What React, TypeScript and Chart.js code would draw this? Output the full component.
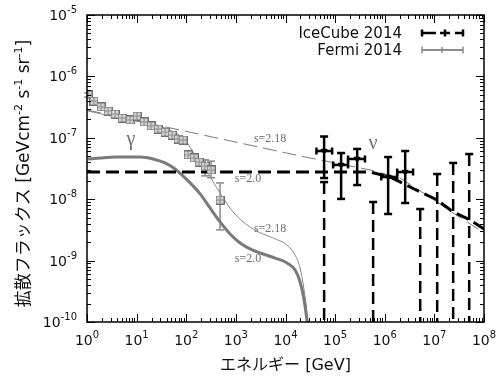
import React, { useEffect, useRef } from "react";
import { Chart, registerables } from "chart.js";

Chart.register(...registerables);

// ---------- data ----------
// Fermi 2014 (gamma-ray background), energy [GeV], E^2 flux
const fermiE = [1.05, 1.38, 1.92, 2.65, 3.67, 5.08, 7.36, 10.2, 14.1, 19.5, 27.0, 37.4, 51.8, 68.4, 86.1, 109, 144, 181, 239, 316, 480];
const fermiF = [4.98e-7, 3.97e-7, 3.18e-7, 2.73e-7, 2.44e-7, 2.1e-7, 1.95e-7, 2.26e-7, 1.81e-7, 1.56e-7, 1.39e-7, 1.24e-7, 1.11e-7, 9.55e-8, 9.2e-8, 5.25e-8, 4.69e-8, 4.03e-8, 3.47e-8, 2.99e-8, 9.7e-9];
const fermiLo = [4.6e-7, 3.7e-7, 2.95e-7, 2.55e-7, 2.28e-7, 1.96e-7, 1.82e-7, 2.1e-7, 1.68e-7, 1.45e-7, 1.29e-7, 1.15e-7, 1.03e-7, 8.8e-8, 8.4e-8, 4.8e-8, 4.25e-8, 3.6e-8, 2.4e-8, 2.24e-8, 3.16e-9];
const fermiHi = [5.4e-7, 4.3e-7, 3.45e-7, 2.95e-7, 2.64e-7, 2.27e-7, 2.1e-7, 2.44e-7, 1.96e-7, 1.69e-7, 1.5e-7, 1.34e-7, 1.2e-7, 1.04e-7, 1.0e-7, 5.8e-8, 5.2e-8, 4.5e-8, 4.37e-8, 4.17e-8, 1.84e-8];

// IceCube 2014 neutrino points
const icE = [6.0e4, 1.32e5, 2.78e5, 1.17e6, 2.58e6];
const icF = [6.09e-8, 3.61e-8, 4.52e-8, 2.3e-8, 2.77e-8];
const icHi = [1.05e-7, 5.65e-8, 6.58e-8, 4.86e-8, 6.09e-8];
const icLo = [2.21e-8, 1.01e-8, 1.7e-8, 5.74e-9, 8.67e-9];
const icEmin = [4.2e4, 9.1e4, 1.82e5, 8.5e5, 1.78e6];
const icEmax = [8.7e4, 1.82e5, 4.0e5, 1.78e6, 3.72e6];

// IceCube 2014 upper limits
const ulE = [6.0e4, 5.83e5, 5.18e6, 1.14e7, 2.39e7, 5.03e7];
const ulF = [1.9e-8, 9.0e-9, 6.92e-9, 2.57e-8, 3.89e-8, 5.44e-8];

// neutrino model lines
const nu20E = [1, 5.08e5, 1.29e6, 3.25e6, 1.14e7, 2.39e7, 5.27e7, 1.0e8];
const nu20F = [2.77e-8, 2.77e-8, 2.3e-8, 1.58e-8, 9.7e-9, 6.19e-9, 4.58e-9, 3.27e-9];
const nu218E = [1, 1.97e4, 5.08e5, 2.04e6, 1.14e7, 2.39e7, 1.0e8];
const nu218F = [2.84e-7, 5.06e-8, 2.99e-8, 2.21e-8, 9.0e-9, 5.96e-9, 2.82e-9];

// gamma-ray model curves
const g20E = [1.05, 1.83, 3.67, 6.4, 11.7, 21.4, 37.4, 59.4, 104, 190, 302, 480, 764, 1216, 2123, 3532, 6166, 10770, 15630, 19690, 23710, 27230, 29000];
const g20F = [4.52e-8, 4.69e-8, 4.86e-8, 4.86e-8, 4.86e-8, 4.52e-8, 3.89e-8, 3.1e-8, 2.06e-8, 1.22e-8, 7.2e-9, 4.26e-9, 2.71e-9, 1.94e-9, 1.49e-9, 1.28e-9, 1.1e-9, 9.14e-10, 7.03e-10, 4.48e-10, 2.28e-10, 1.0e-10, 6e-11];
const g218E = [1.05, 4.62, 18.6, 47.1, 94.6, 150, 239, 331, 480, 879, 2223, 5623, 10770, 15630, 19690, 23710, 28560, 30500];
const g218F = [2.73e-7, 2.1e-7, 1.68e-7, 1.34e-7, 9.2e-8, 5.25e-8, 3.22e-8, 2.06e-8, 1.26e-8, 6.19e-9, 3.27e-9, 2.33e-9, 1.79e-9, 1.23e-9, 7.57e-10, 3.32e-10, 1.0e-10, 6e-11];

// axis ticks
const xTickExps = [0, 1, 2, 3, 4, 5, 6, 7, 8];
const yTickExps = [-10, -9, -8, -7, -6, -5];

// annotations
const annText = ["γ", "ν", "s=2.18", "s=2.0", "s=2.18", "s=2.0"];
const annE = [7.7, 5.83e5, 4.9e3, 1.76e3, 4.9e3, 1.76e3];
const annF = [9.2e-8, 7.9e-8, 9.5e-8, 2.13e-8, 3.27e-9, 1.06e-9];
const annSize = [20, 20, 12, 12, 12, 12];

const SANS = "'DejaVu Sans', 'Noto Sans CJK JP', sans-serif";
const SERIF = "'Liberation Serif', 'DejaVu Serif', serif";

function pts(xs: number[], ys: number[]) {
  return xs.map((x, i) => ({ x, y: ys[i] }));
}

function makeSquare(): HTMLCanvasElement {
  const c = document.createElement("canvas");
  c.width = 9;
  c.height = 9;
  const g = c.getContext("2d")!;
  g.fillStyle = "#cfcfcf";
  g.fillRect(0, 0, 9, 9);
  g.strokeStyle = "#707070";
  g.lineWidth = 1;
  g.strokeRect(0.5, 0.5, 8, 8);
  g.beginPath();
  g.moveTo(4.5, 1);
  g.lineTo(4.5, 8);
  g.moveTo(1, 4.5);
  g.lineTo(8, 4.5);
  g.strokeStyle = "#909090";
  g.stroke();
  return c;
}

function drawSup(
  ctx: CanvasRenderingContext2D,
  parts: [string, boolean][],
  x: number,
  y: number,
  align: "left" | "center" | "right",
  baseFont: string,
  supFont: string,
  rise: number
) {
  let w = 0;
  for (const [t, s] of parts) {
    ctx.font = s ? supFont : baseFont;
    w += ctx.measureText(t).width;
  }
  let cx = align === "left" ? x : align === "center" ? x - w / 2 : x - w;
  ctx.textAlign = "left";
  ctx.textBaseline = "alphabetic";
  for (const [t, s] of parts) {
    ctx.font = s ? supFont : baseFont;
    ctx.fillText(t, cx, s ? y - rise : y);
    cx += ctx.measureText(t).width;
  }
}

function line(ctx: CanvasRenderingContext2D, x1: number, y1: number, x2: number, y2: number) {
  ctx.beginPath();
  ctx.moveTo(x1, y1);
  ctx.lineTo(x2, y2);
  ctx.stroke();
}

const decorPlugin = {
  id: "decor",
  beforeDatasetsDraw(chart: any) {
    const { ctx, scales } = chart;
    const xs = scales.x;
    const ys = scales.y;
    ctx.save();
    ctx.strokeStyle = "#8a8a8a";
    ctx.lineWidth = 1.5;
    fermiE.forEach((e, i) => {
      const px = xs.getPixelForValue(e);
      const pl = ys.getPixelForValue(fermiLo[i]);
      const ph = ys.getPixelForValue(fermiHi[i]);
      line(ctx, px, pl, px, ph);
      line(ctx, px - 4, pl, px + 4, pl);
      line(ctx, px - 4, ph, px + 4, ph);
    });
    ctx.restore();
  },
  afterDatasetsDraw(chart: any) {
    const { ctx, scales, chartArea: a } = chart;
    const xs = scales.x;
    const ys = scales.y;
    ctx.save();
    ctx.beginPath();
    ctx.rect(a.left, a.top, a.right - a.left, a.bottom - a.top);
    ctx.clip();
    ctx.strokeStyle = "#000";
    ctx.lineWidth = 2.5;
    ulE.forEach((e, i) => {
      const px = xs.getPixelForValue(e);
      const pt = ys.getPixelForValue(ulF[i]);
      ctx.setLineDash([]);
      line(ctx, px - 4, pt, px + 4, pt);
      ctx.setLineDash([12, 6]);
      line(ctx, px, pt, px, a.bottom);
    });
    ctx.setLineDash([]);
    icE.forEach((e, i) => {
      const px = xs.getPixelForValue(e);
      const py = ys.getPixelForValue(icF[i]);
      const pl = ys.getPixelForValue(icLo[i]);
      const ph = ys.getPixelForValue(icHi[i]);
      const x1 = xs.getPixelForValue(icEmin[i]);
      const x2 = xs.getPixelForValue(icEmax[i]);
      line(ctx, px, pl, px, ph);
      line(ctx, px - 4, pl, px + 4, pl);
      line(ctx, px - 4, ph, px + 4, ph);
      line(ctx, x1, py, x2, py);
      line(ctx, x1, py - 3.5, x1, py + 3.5);
      line(ctx, x2, py - 3.5, x2, py + 3.5);
    });
    ctx.restore();

    ctx.save();
    ctx.fillStyle = "#6e6e6e";
    ctx.textAlign = "center";
    ctx.textBaseline = "middle";
    annText.forEach((t, i) => {
      ctx.font = `${annSize[i]}px ${SERIF}`;
      ctx.fillText(t, xs.getPixelForValue(annE[i]), ys.getPixelForValue(annF[i]));
    });
    ctx.restore();
  },
  afterDraw(chart: any) {
    const { ctx, scales, chartArea: a } = chart;
    const xs = scales.x;
    const ys = scales.y;
    ctx.save();
    ctx.strokeStyle = "#000";
    ctx.lineWidth = 1;
    xTickExps.forEach((d) => {
      for (let m = 1; m <= 9; m++) {
        if (d === 8 && m > 1) break;
        const px = Math.round(xs.getPixelForValue(m * Math.pow(10, d))) + 0.5;
        const len = m === 1 ? 8 : 4;
        line(ctx, px, a.bottom, px, a.bottom - len);
        line(ctx, px, a.top, px, a.top + len);
      }
    });
    yTickExps.forEach((d) => {
      for (let m = 1; m <= 9; m++) {
        if (d === -5 && m > 1) break;
        const py = Math.round(ys.getPixelForValue(m * Math.pow(10, d))) + 0.5;
        const len = m === 1 ? 8 : 4;
        line(ctx, a.left, py, a.left + len, py);
        line(ctx, a.right, py, a.right - len, py);
      }
    });
    ctx.lineWidth = 1.5;
    ctx.strokeRect(a.left, a.top, a.right - a.left, a.bottom - a.top);

    ctx.fillStyle = "#111";
    const bf = `14px ${SANS}`;
    const sf = `10px ${SANS}`;
    xTickExps.forEach((d) => {
      const px = xs.getPixelForValue(Math.pow(10, d));
      drawSup(ctx, [["10", false], [String(d), true]], px, a.bottom + 23, "center", bf, sf, 7);
    });
    yTickExps.forEach((d) => {
      const py = ys.getPixelForValue(Math.pow(10, d));
      drawSup(ctx, [["10", false], [String(d), true]], a.left - 10, py + 5, "right", bf, sf, 7);
    });

    ctx.font = `16px ${SANS}`;
    ctx.textAlign = "center";
    ctx.textBaseline = "alphabetic";
    ctx.fillText("エネルギー [GeV]", (a.left + a.right) / 2, 370);

    ctx.save();
    ctx.translate(23, (a.top + a.bottom) / 2 + 5);
    ctx.rotate(-Math.PI / 2);
    drawSup(
      ctx,
      [
        ["拡散フラックス [GeVcm", false],
        ["-2", true],
        [" s", false],
        ["-1", true],
        [" sr", false],
        ["-1", true],
        ["]", false],
      ],
      0,
      6,
      "center",
      `17px ${SANS}`,
      `11px ${SANS}`,
      7
    );
    ctx.restore();

    ctx.font = `15px ${SANS}`;
    ctx.textAlign = "right";
    ctx.fillStyle = "#111";
    ctx.fillText("IceCube 2014", 402, 38);
    ctx.fillText("Fermi 2014", 402, 55);
    ctx.strokeStyle = "#000";
    ctx.lineWidth = 2.5;
    line(ctx, 422, 33, 436, 33);
    line(ctx, 440, 33, 450, 33);
    line(ctx, 455, 33, 463, 33);
    line(ctx, 422, 29.5, 422, 36.5);
    line(ctx, 463, 29.5, 463, 36.5);
    line(ctx, 445, 29.5, 445, 36.5);
    ctx.strokeStyle = "#8a8a8a";
    ctx.lineWidth = 2;
    line(ctx, 422, 50, 463, 50);
    ctx.lineWidth = 1.5;
    line(ctx, 422, 46.5, 422, 53.5);
    line(ctx, 463, 46.5, 463, 53.5);
    line(ctx, 442, 47, 442, 53);
    ctx.restore();
  },
};

export default function App() {
  const ref = useRef<HTMLCanvasElement | null>(null);
  useEffect(() => {
    if (!ref.current) return;
    const square = makeSquare();
    const chart = new Chart(ref.current, {
      type: "scatter",
      data: {
        datasets: [
          {
            label: "Fermi 2014",
            data: pts(fermiE, fermiF),
            showLine: false,
            pointStyle: square as any,
            pointRadius: 4,
          },
          {
            label: "IceCube 2014",
            data: pts(icE, icF),
            showLine: false,
            pointStyle: "triangle",
            rotation: 180,
            pointRadius: 3.5,
            backgroundColor: "#000",
            borderColor: "#000",
            borderWidth: 1,
          },
          {
            label: "nu s=2.0",
            data: pts(nu20E, nu20F),
            showLine: true,
            borderColor: "#000",
            borderWidth: 3,
            borderDash: [13, 6],
            pointRadius: 0,
          },
          {
            label: "nu s=2.18",
            data: pts(nu218E, nu218F),
            showLine: true,
            borderColor: "#7a7a7a",
            borderWidth: 1,
            borderDash: [14, 6],
            pointRadius: 0,
          },
          {
            label: "gamma s=2.0",
            data: pts(g20E, g20F),
            showLine: true,
            borderColor: "#7a7a7a",
            borderWidth: 3,
            cubicInterpolationMode: "monotone",
            pointRadius: 0,
          },
          {
            label: "gamma s=2.18",
            data: pts(g218E, g218F),
            showLine: true,
            borderColor: "#8a8a8a",
            borderWidth: 1,
            cubicInterpolationMode: "monotone",
            pointRadius: 0,
          },
        ],
      },
      options: {
        responsive: false,
        animation: false,
        layout: { padding: { left: 87, right: 16, top: 15, bottom: 55 } },
        scales: {
          x: { type: "logarithmic", min: 1, max: 1e8, display: false },
          y: { type: "logarithmic", min: 1e-10, max: 1e-5, display: false },
        },
        plugins: {
          legend: { display: false },
          tooltip: { enabled: false },
        },
      },
      plugins: [decorPlugin],
    });
    return () => chart.destroy();
  }, []);
  return (
    <div style={{ position: "fixed", left: 0, top: 0, width: 500, height: 377, background: "#fff" }}>
      <canvas ref={ref} width={500} height={377} style={{ width: 500, height: 377 }} />
    </div>
  );
}
